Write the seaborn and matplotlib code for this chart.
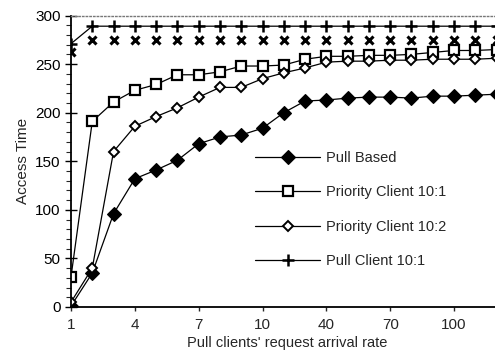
import matplotlib
matplotlib.use("Agg")
import matplotlib.pyplot as plt
import seaborn as sns
import numpy as np
import pandas as pd
from matplotlib.ticker import MultipleLocator

categories = [1, 2, 3, 4, 5, 6, 7, 8, 9, 10, 20, 30, 40, 50, 60, 70, 80, 90, 100, 110, 120]
tick_labels = ["1", "4", "7", "10", "40", "70", "100"]
tick_every = 3

pull_based = [1, 35, 96, 132, 141, 151, 168, 175, 177, 184, 200, 212, 213, 215, 216, 216, 215, 217, 217, 218, 219]
priority_10_1 = [31, 191, 211, 223, 229, 239, 239, 242, 248, 248, 249, 255, 258, 258, 259, 259, 260, 262, 264, 264, 265]
priority_10_2 = [5, 40, 160, 186, 196, 205, 216, 226, 226, 235, 241, 246, 252, 253, 253, 254, 254, 255, 255, 255, 256]
pull_client_10_1 = [271] + [289] * 20
unlabeled_x = [262] + [275] * 20

sns.set_theme(style="white")
plt.rcParams["font.family"] = ["Liberation Sans", "DejaVu Sans"]

fig = plt.figure(figsize=(4.95, 3.56), dpi=100)
ax = fig.add_axes([71 / 495, (356 - 307) / 356, 432 / 495, (307 - 15.5) / 356])

pos = np.arange(len(categories))

series = [
    ("Pull Based", pull_based, dict(marker="D", markersize=7, markerfacecolor="black", markeredgecolor="black", markeredgewidth=0.8)),
    ("Priority Client 10:1", priority_10_1, dict(marker="s", markersize=7, markerfacecolor="white", markeredgecolor="black", markeredgewidth=1.6)),
    ("Priority Client 10:2", priority_10_2, dict(marker="D", markersize=5, markerfacecolor="white", markeredgecolor="black", markeredgewidth=1.4)),
    ("Pull Client 10:1", pull_client_10_1, dict(marker="+", markersize=8, markeredgecolor="black", markeredgewidth=1.8)),
]
for name, vals, kw in series:
    sns.lineplot(x=pos, y=vals, ax=ax, color="black", linewidth=0.9, label=name, **kw)

sns.lineplot(x=pos, y=unlabeled_x, ax=ax, color="black", linestyle="none",
             marker="x", markersize=6, markeredgecolor="black", markeredgewidth=2.2, legend=False)

ax.set_xlim(0, 20.3)
ax.set_ylim(0, 300)
ax.set_xticks(pos[::tick_every])
ax.set_xticklabels(tick_labels)
ax.yaxis.set_major_locator(MultipleLocator(50))
ax.yaxis.set_minor_locator(MultipleLocator(10))
ax.tick_params(axis="y", which="major", direction="inout", length=8, width=1, labelsize=11, colors="black", left=True)
ax.tick_params(axis="y", which="minor", direction="out", length=3.5, width=0.8, left=True)
ax.tick_params(axis="x", which="major", direction="out", length=3, width=1, labelsize=11, bottom=True, pad=5)

for s in ["left", "bottom"]:
    ax.spines[s].set_color("black")
    ax.spines[s].set_linewidth(1.3)
ax.spines["right"].set_visible(False)
ax.spines["top"].set_color("#777777")
ax.spines["top"].set_linestyle(":")
ax.spines["top"].set_linewidth(1.0)

ax.set_xlabel("Pull clients' request arrival rate", fontsize=10.5, labelpad=3)
ax.set_ylabel("Access Time", fontsize=11, labelpad=4)

leg = ax.legend(loc="upper left", bbox_to_anchor=(178 / 432, (307 - 145) / 291.5), frameon=False,
                fontsize=10.5, handlelength=4.5, labelspacing=1.4, handletextpad=0.4, borderaxespad=0)

fig.savefig("out.png", dpi=100)
